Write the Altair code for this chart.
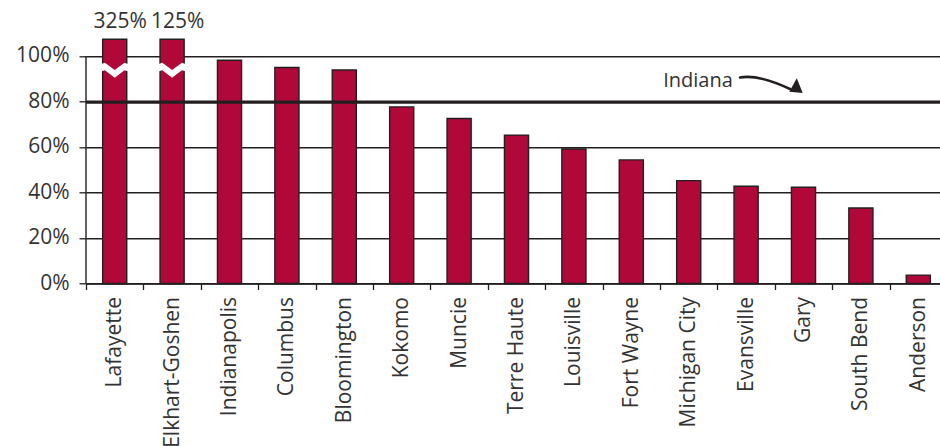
import altair as alt
import pandas as pd

cities = ["Lafayette", "Elkhart-Goshen", "Indianapolis", "Columbus", "Bloomington",
          "Kokomo", "Muncie", "Terre Haute", "Louisville", "Fort Wayne",
          "Michigan City", "Evansville", "Gary", "South Bend", "Anderson"]
values = [325, 125, 98.1, 94.9, 93.8, 77.6, 72.5, 65.2, 59.1, 54.3,
          45.2, 42.7, 42.3, 33.2, 3.7]
y_ticks = [0, 20, 40, 60, 80, 100]
INDIANA = 79.7
INDIANA_LABEL = "Indiana"
Y_TOP = 107.3        # top of the (broken) axis
BREAK_AT = 93.8      # where the break mark sits on broken bars

FONT = "Open Sans"
TXT = "#333333"
INK = "#231f20"
BAR = "#B1083A"

W, H = 854, 244.2
STEP = 57.4

rows = [{"city": c, "value": v, "kind": "bar"} for c, v in zip(cities, values)]
rows.append({"city": "Michigan City", "value": INDIANA, "kind": "indiana"})
rows.append({"city": "Evansville", "value": INDIANA, "kind": "arrow"})
rows.append({"city": "Lafayette", "value": 0, "kind": "yaxis"})
df = pd.DataFrame(rows)

xscale = alt.Scale(domain=cities, range=[0, STEP * len(cities)],
                   paddingInner=0.58, paddingOuter=0.29)
yscale = alt.Scale(domain=[0, Y_TOP], nice=False, zero=True)

xaxis = alt.Axis(title=None, labelAngle=-90, labelFont=FONT, labelFontSize=21,
                 labelColor=TXT, tickSize=6, tickColor=INK, tickWidth=1.3,
                 tickOffset=-STEP / 2, labelOffset=STEP / 2, labelPadding=7,
                 domainColor=INK, domainWidth=1.6, grid=False)
yaxis = alt.Axis(title=None, values=y_ticks, labelExpr="datum.value + '%'",
                 labelFont=FONT, labelFontSize=21, labelColor=TXT,
                 tickSize=7, tickColor=INK, tickWidth=1.3, labelPadding=10,
                 domain=False, grid=True, gridColor=INK, gridWidth=1.4)

X = alt.X("city:N", scale=xscale, axis=xaxis, sort=cities)
Y = alt.Y("y:Q", scale=yscale, axis=yaxis)

base = alt.Chart(df)

bars = base.transform_filter("datum.kind == 'bar'").transform_calculate(
    y=f"min(datum.value, {Y_TOP})"
).mark_bar(color=BAR, stroke=INK, strokeWidth=1.4).encode(x=X, y=Y)

break_path = ("M -1 -0.42 L -0.7 -0.52 L 0 0 L 0.7 -0.52 L 1 -0.42 "
              "L 1 0.1 L 0.7 0.02 L 0 0.55 L -0.7 0.02 L -1 0.1 Z")
breaks = base.transform_filter(
    f"datum.kind == 'bar' && datum.value > {Y_TOP}"
).transform_calculate(y=f"{BREAK_AT}").mark_point(
    shape=break_path, filled=True, color="white", opacity=1,
    size=784, strokeWidth=0).encode(x=X, y=Y)

top_labels = base.transform_filter(
    f"datum.kind == 'bar' && datum.value > {Y_TOP}"
).transform_calculate(
    label="format(datum.value, '.0f') + '%'"
).mark_text(font=FONT, fontSize=21, color=TXT, baseline="alphabetic",
            align="center", dx=5.5).encode(
    x=X, y=alt.value(-11), text="label:N")

yline = base.transform_filter("datum.kind == 'yaxis'").transform_calculate(
    y="0", y2="100"
).mark_rule(color=INK, strokeWidth=1.4).encode(
    x=alt.value(0), y=Y, y2="y2:Q")

indiana_rule = base.transform_filter("datum.kind == 'indiana'").transform_calculate(
    y="datum.value"
).mark_rule(color=INK, strokeWidth=3.4).encode(y=Y)

indiana_text = base.transform_filter("datum.kind == 'indiana'").transform_calculate(
    y="datum.value", label=f"'{INDIANA_LABEL}'"
).mark_text(font=FONT, fontSize=20, color=TXT, baseline="alphabetic",
            align="center", dx=9.3, dy=-15.4).encode(x=X, y=Y, text="label:N")

shaft_path = "M -0.969 -0.234 Q -0.406 -0.344 0.594 0.125"
head_path = "M 0.806 -0.209 L 0.99 0.25 L 0.572 0.209 Z"

arrow_base = base.transform_filter("datum.kind == 'arrow'").transform_calculate(
    y="datum.value")
arrow_shaft = arrow_base.mark_point(
    shape=shaft_path, filled=False, stroke=INK, strokeWidth=2.6, opacity=1,
    size=4096, xOffset=24.9, yOffset=-17.1, strokeCap="round").encode(x=X, y=Y)
arrow_head = arrow_base.mark_point(
    shape=head_path, filled=True, color=INK, opacity=1, strokeWidth=0,
    size=4096, xOffset=24.9, yOffset=-17.1).encode(x=X, y=Y)

chart = alt.layer(
    bars, breaks, top_labels, yline, indiana_rule, indiana_text, arrow_shaft, arrow_head
).properties(
    width=W, height=H,
    autosize=alt.AutoSizeParams(type="none"),
    padding={"left": 86, "top": 39.3, "right": 0, "bottom": 162.5},
    background="white",
).configure_view(stroke=None)

chart.save("out.html", embed_options={"renderer": "svg", "actions": False})
